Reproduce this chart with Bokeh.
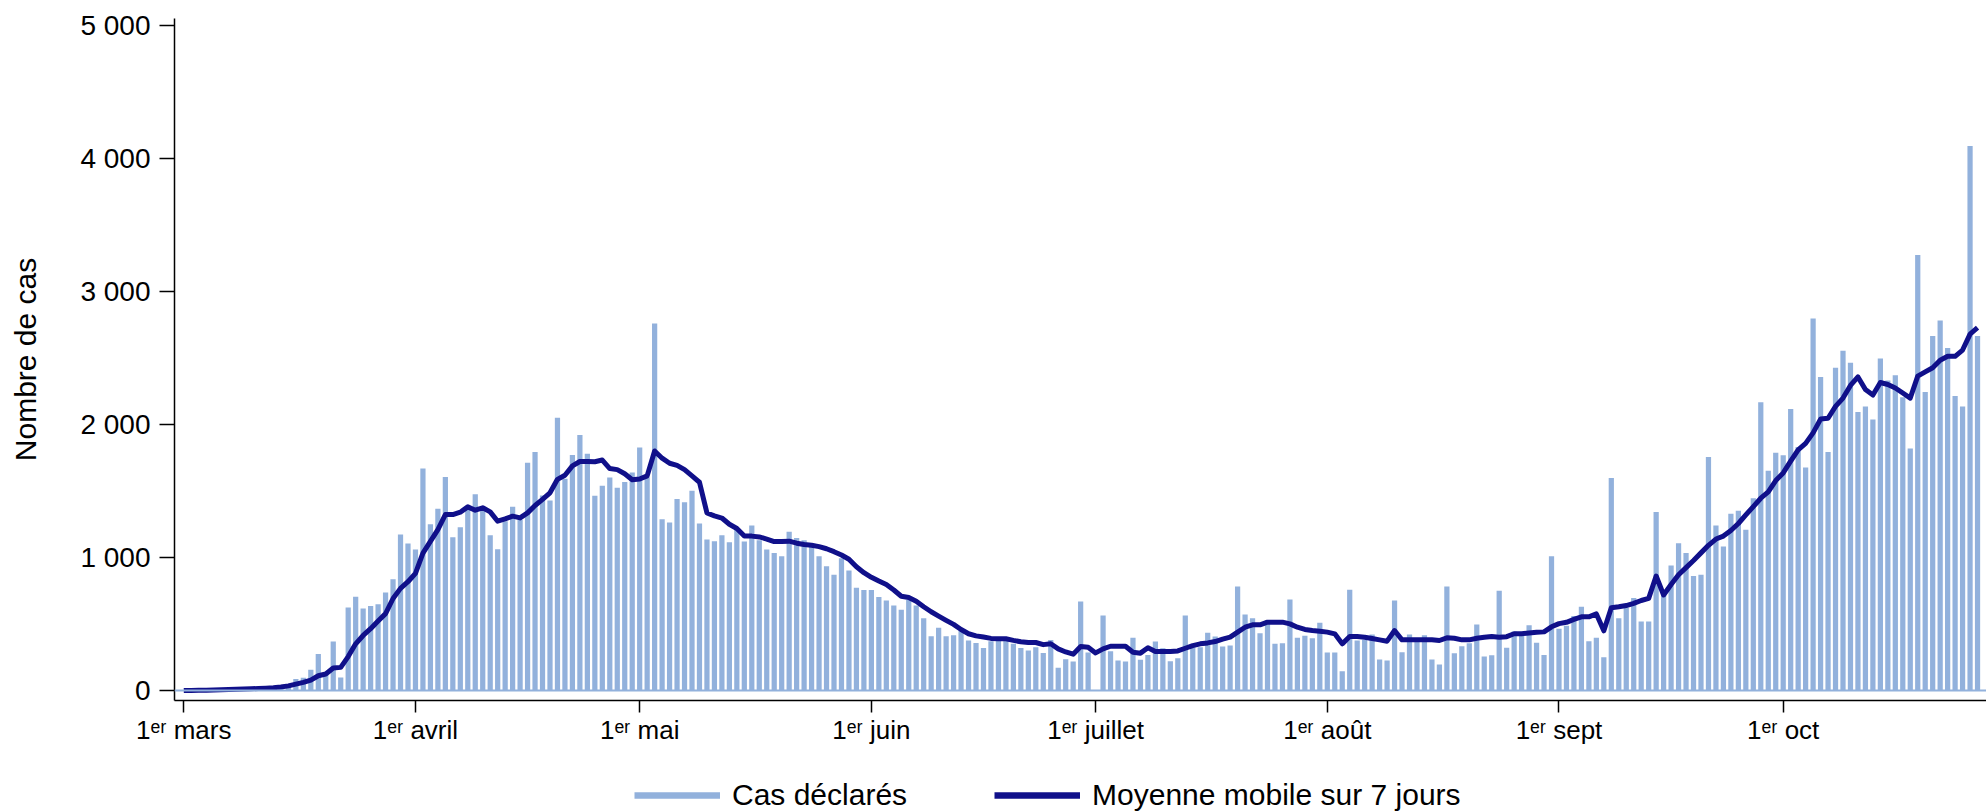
import pandas as pd
from bokeh.plotting import figure
from bokeh.layouts import column
from bokeh.models import (FixedTicker, Range1d, Legend, LegendItem, Span,
                          ColumnDataSource)
from bokeh.embed import file_html
from bokeh.resources import INLINE

# ---------------- data ----------------
start_date = "2020-03-01"

cases = [
    1, 1, 2, 3, 2, 4, 5, 6, 8, 10, 14, 18, 24, 32, 45,            # d0-14
    86, 96, 157, 275, 120, 369, 98, 624, 705, 616, 636, 649, 737, 836, 1174, 1106,  # d15-30
    1061, 1669, 1250, 1366, 1606, 1152, 1227, 1361, 1475, 1374,    # d31-40 (avril)
    1167, 1063, 1273, 1381, 1285, 1712, 1793, 1467, 1429, 2051,    # d41-50
    1593, 1770, 1922, 1780, 1465, 1540, 1601, 1525, 1568, 1639,    # d51-60
    1828, 1604, 2760, 1288, 1263, 1440, 1415, 1503, 1256, 1136,    # d61-70 (mai)
    1123, 1168, 1114, 1209, 1120, 1241, 1130, 1060, 1035, 1009,    # d71-80
    1193, 1146, 1130, 1082, 1009, 934, 870, 994, 902, 772,         # d81-90
    756, 756, 703, 677, 639, 608, 680, 639, 544, 408,              # d91-100 (juin)
    472, 408, 415, 449, 377, 358, 320, 370, 377, 396,              # d101-110
    351, 320, 301, 326, 282, 379, 172, 236, 218, 669,              # d111-120
    285, 0, 564, 296, 226, 218, 396, 231, 268, 368,                # d121-130 (juillet)
    318, 221, 243, 564, 326, 326, 434, 406, 331, 338,              # d131-140
    782, 571, 544, 431, 531, 351, 356, 684, 396, 411,              # d141-150
    393, 509, 286, 286, 145, 757, 376, 381, 421, 233,              # d151-160 (août)
    226, 677, 288, 421, 376, 416, 233, 195, 782, 281,              # d161-170
    333, 356, 496, 256, 266, 750, 322, 444, 420, 490,              # d171-180
    360, 267, 1009, 465, 487, 560, 630, 370, 396, 250,             # d181-190 (sept)
    1598, 544, 623, 696, 519, 519, 1342, 720, 940, 1108,           # d191-200
    1035, 861, 870, 1756, 1241, 1082, 1329, 1351, 1209, 1446,      # d201-210
    2168, 1652, 1788, 1769, 2117, 1832, 1677, 2797, 2358, 1794,    # d211-220 (oct)
    2427, 2554, 2465, 2095, 2136, 2038, 2497, 2332, 2370, 2206,    # d221-230
    1820, 3275, 2244, 2665, 2782, 2576, 2215, 2136, 4095, 2665,    # d231-240
]

moving_avg = [
    0, 1, 2, 3, 4, 5, 7, 9, 11, 13, 15, 18, 21, 27, 35,
    48, 61, 78, 111, 124, 169, 174, 255, 351, 414, 465, 523, 578, 692, 768, 818,
    881, 1033, 1121, 1210, 1323, 1323, 1341, 1381, 1356, 1374,
    1343, 1273, 1290, 1311, 1298, 1336, 1391, 1437, 1487, 1588,
    1619, 1689, 1722, 1722, 1720, 1733, 1669, 1661, 1630, 1585,
    1590, 1614, 1801, 1747, 1709, 1693, 1661, 1614, 1566, 1335,
    1313, 1297, 1250, 1218, 1161, 1161, 1155, 1139, 1120, 1120,
    1123, 1108, 1098, 1092, 1082, 1066, 1044, 1019, 987, 930,
    886, 851, 823, 797, 756, 709, 699, 671, 630, 592,
    560, 528, 497, 459, 427, 411, 402, 392, 389, 389,
    377, 367, 361, 361, 345, 352, 313, 290, 273, 331,
    325, 283, 313, 333, 333, 333, 288, 281, 321, 293,
    293, 293, 298, 318, 338, 351, 358, 368, 386, 401,
    439, 476, 494, 494, 514, 514, 514, 501, 476, 459,
    451, 446, 439, 426, 351, 406, 406, 401, 391, 381,
    371, 451, 381, 381, 381, 381, 381, 376, 396, 393,
    381, 381, 393, 401, 406, 400, 405, 427, 427, 432,
    438, 441, 479, 503, 513, 535, 554, 554, 576, 449,
    623, 630, 639, 655, 677, 693, 861, 718, 797, 870,
    924, 978, 1035, 1092, 1139, 1161, 1203, 1256, 1320, 1383,
    1446, 1494, 1579, 1636, 1725, 1810, 1858, 1937, 2041, 2047,
    2136, 2199, 2294, 2358, 2263, 2222, 2316, 2301, 2275, 2237,
    2199, 2364, 2396, 2427, 2484, 2513, 2513, 2560, 2680, 2728,
]

month_ticks = ["2020-03-01", "2020-04-01", "2020-05-01", "2020-06-01",
               "2020-07-01", "2020-08-01", "2020-09-01", "2020-10-01"]
month_labels = ["1ᵉʳ mars", "1ᵉʳ avril", "1ᵉʳ mai", "1ᵉʳ juin",
                "1ᵉʳ juillet", "1ᵉʳ août", "1ᵉʳ sept", "1ᵉʳ oct"]

y_ticks = [0, 1000, 2000, 3000, 4000, 5000]
y_labels = ["0", "1 000", "2 000", "3 000", "4 000", "5 000"]

legend_labels = ["Cas déclarés", "Moyenne mobile sur 7 jours"]

# ---------------- styles ----------------
BAR = "#92B1DC"
NAVY = "#10108A"
FONT = "Liberation Sans"
DAY = 86400000.0
W = 1986
H_MAIN = 750
H_LEG = 62

dates = pd.date_range(start_date, periods=len(cases), freq="D")
src = ColumnDataSource(data=dict(date=dates, cases=cases, avg=moving_avg))

t0 = pd.Timestamp(start_date).value / 1e6

p = figure(width=W, height=H_MAIN, x_axis_type="datetime",
           output_backend="svg", toolbar_location=None,
           x_range=Range1d(t0 - 1.24 * DAY, t0 + 241.2 * DAY),
           y_range=Range1d(-75, 5053),
           min_border_left=174, min_border_right=0,
           min_border_top=18, min_border_bottom=50)

p.background_fill_color = "white"
p.border_fill_color = "white"
p.outline_line_color = None
p.xgrid.visible = False
p.ygrid.visible = False

p.add_layout(Span(location=0, dimension="width", line_color=BAR, line_width=2))

p.vbar(x="date", top="cases", bottom=0, width=0.7 * DAY, source=src,
       fill_color=BAR, line_color=None)
p.line(x="date", y="avg", source=src, line_color=NAVY, line_width=5,
       line_join="round")

# y axis
p.yaxis.ticker = FixedTicker(ticks=y_ticks)
p.yaxis.major_label_overrides = dict(zip(y_ticks, y_labels))
p.yaxis.axis_label = "Nombre de cas"
p.yaxis.axis_label_text_font = FONT
p.yaxis.axis_label_text_font_size = "30px"
p.yaxis.axis_label_text_font_style = "normal"
p.yaxis.axis_label_text_color = "black"
p.yaxis.axis_label_standoff = 35
p.yaxis.major_label_standoff = 9
p.yaxis.major_label_text_font = FONT
p.yaxis.major_label_text_font_size = "28px"

# x axis
xt = [int(pd.Timestamp(d).value // 10**6) for d in month_ticks]
p.xaxis.ticker = FixedTicker(ticks=xt)
p.xaxis.major_label_overrides = dict(zip(xt, month_labels))
p.xaxis.major_label_standoff = 2
p.xaxis.major_label_text_font = FONT
p.xaxis.major_label_text_font_size = "26px"

for ax in (p.xaxis, p.yaxis):
    ax.axis_line_color = "black"
    ax.axis_line_width = 1.5
    ax.major_tick_line_color = "black"
    ax.major_tick_line_width = 1.5
    ax.major_tick_in = 0
    ax.minor_tick_in = 0
    ax.minor_tick_out = 0
    ax.major_label_text_color = "black"
p.yaxis.major_tick_out = 15
p.xaxis.major_tick_out = 12

# ---------------- legend strip ----------------
pl = figure(width=W, height=H_LEG, output_backend="svg", toolbar_location=None,
            x_range=Range1d(0, 1), y_range=Range1d(0, 1),
            min_border_left=0, min_border_right=0,
            min_border_top=0, min_border_bottom=0)
pl.axis.visible = False
pl.grid.visible = False
pl.outline_line_color = None
pl.background_fill_color = "white"
pl.border_fill_color = "white"

# legend-only renderers (a single NaN point: nothing drawn in the strip)
nan = float("nan")
r1 = pl.line(x=[nan], y=[nan], line_color=BAR, line_width=6.5)
r2 = pl.line(x=[nan], y=[nan], line_color=NAVY, line_width=6.5)
legend = Legend(items=[LegendItem(label=legend_labels[0], renderers=[r1]),
                       LegendItem(label=legend_labels[1], renderers=[r2])],
                orientation="horizontal", location=(460, 0),
                glyph_width=86, glyph_height=20, label_standoff=12,
                spacing=87, padding=0, margin=0,
                border_line_color=None, background_fill_alpha=0,
                label_text_font=FONT, label_text_font_size="30px",
                label_text_color="black")
pl.add_layout(legend)

layout = column(p, pl, spacing=0)
open("out.html", "w").write(file_html(layout, INLINE))
